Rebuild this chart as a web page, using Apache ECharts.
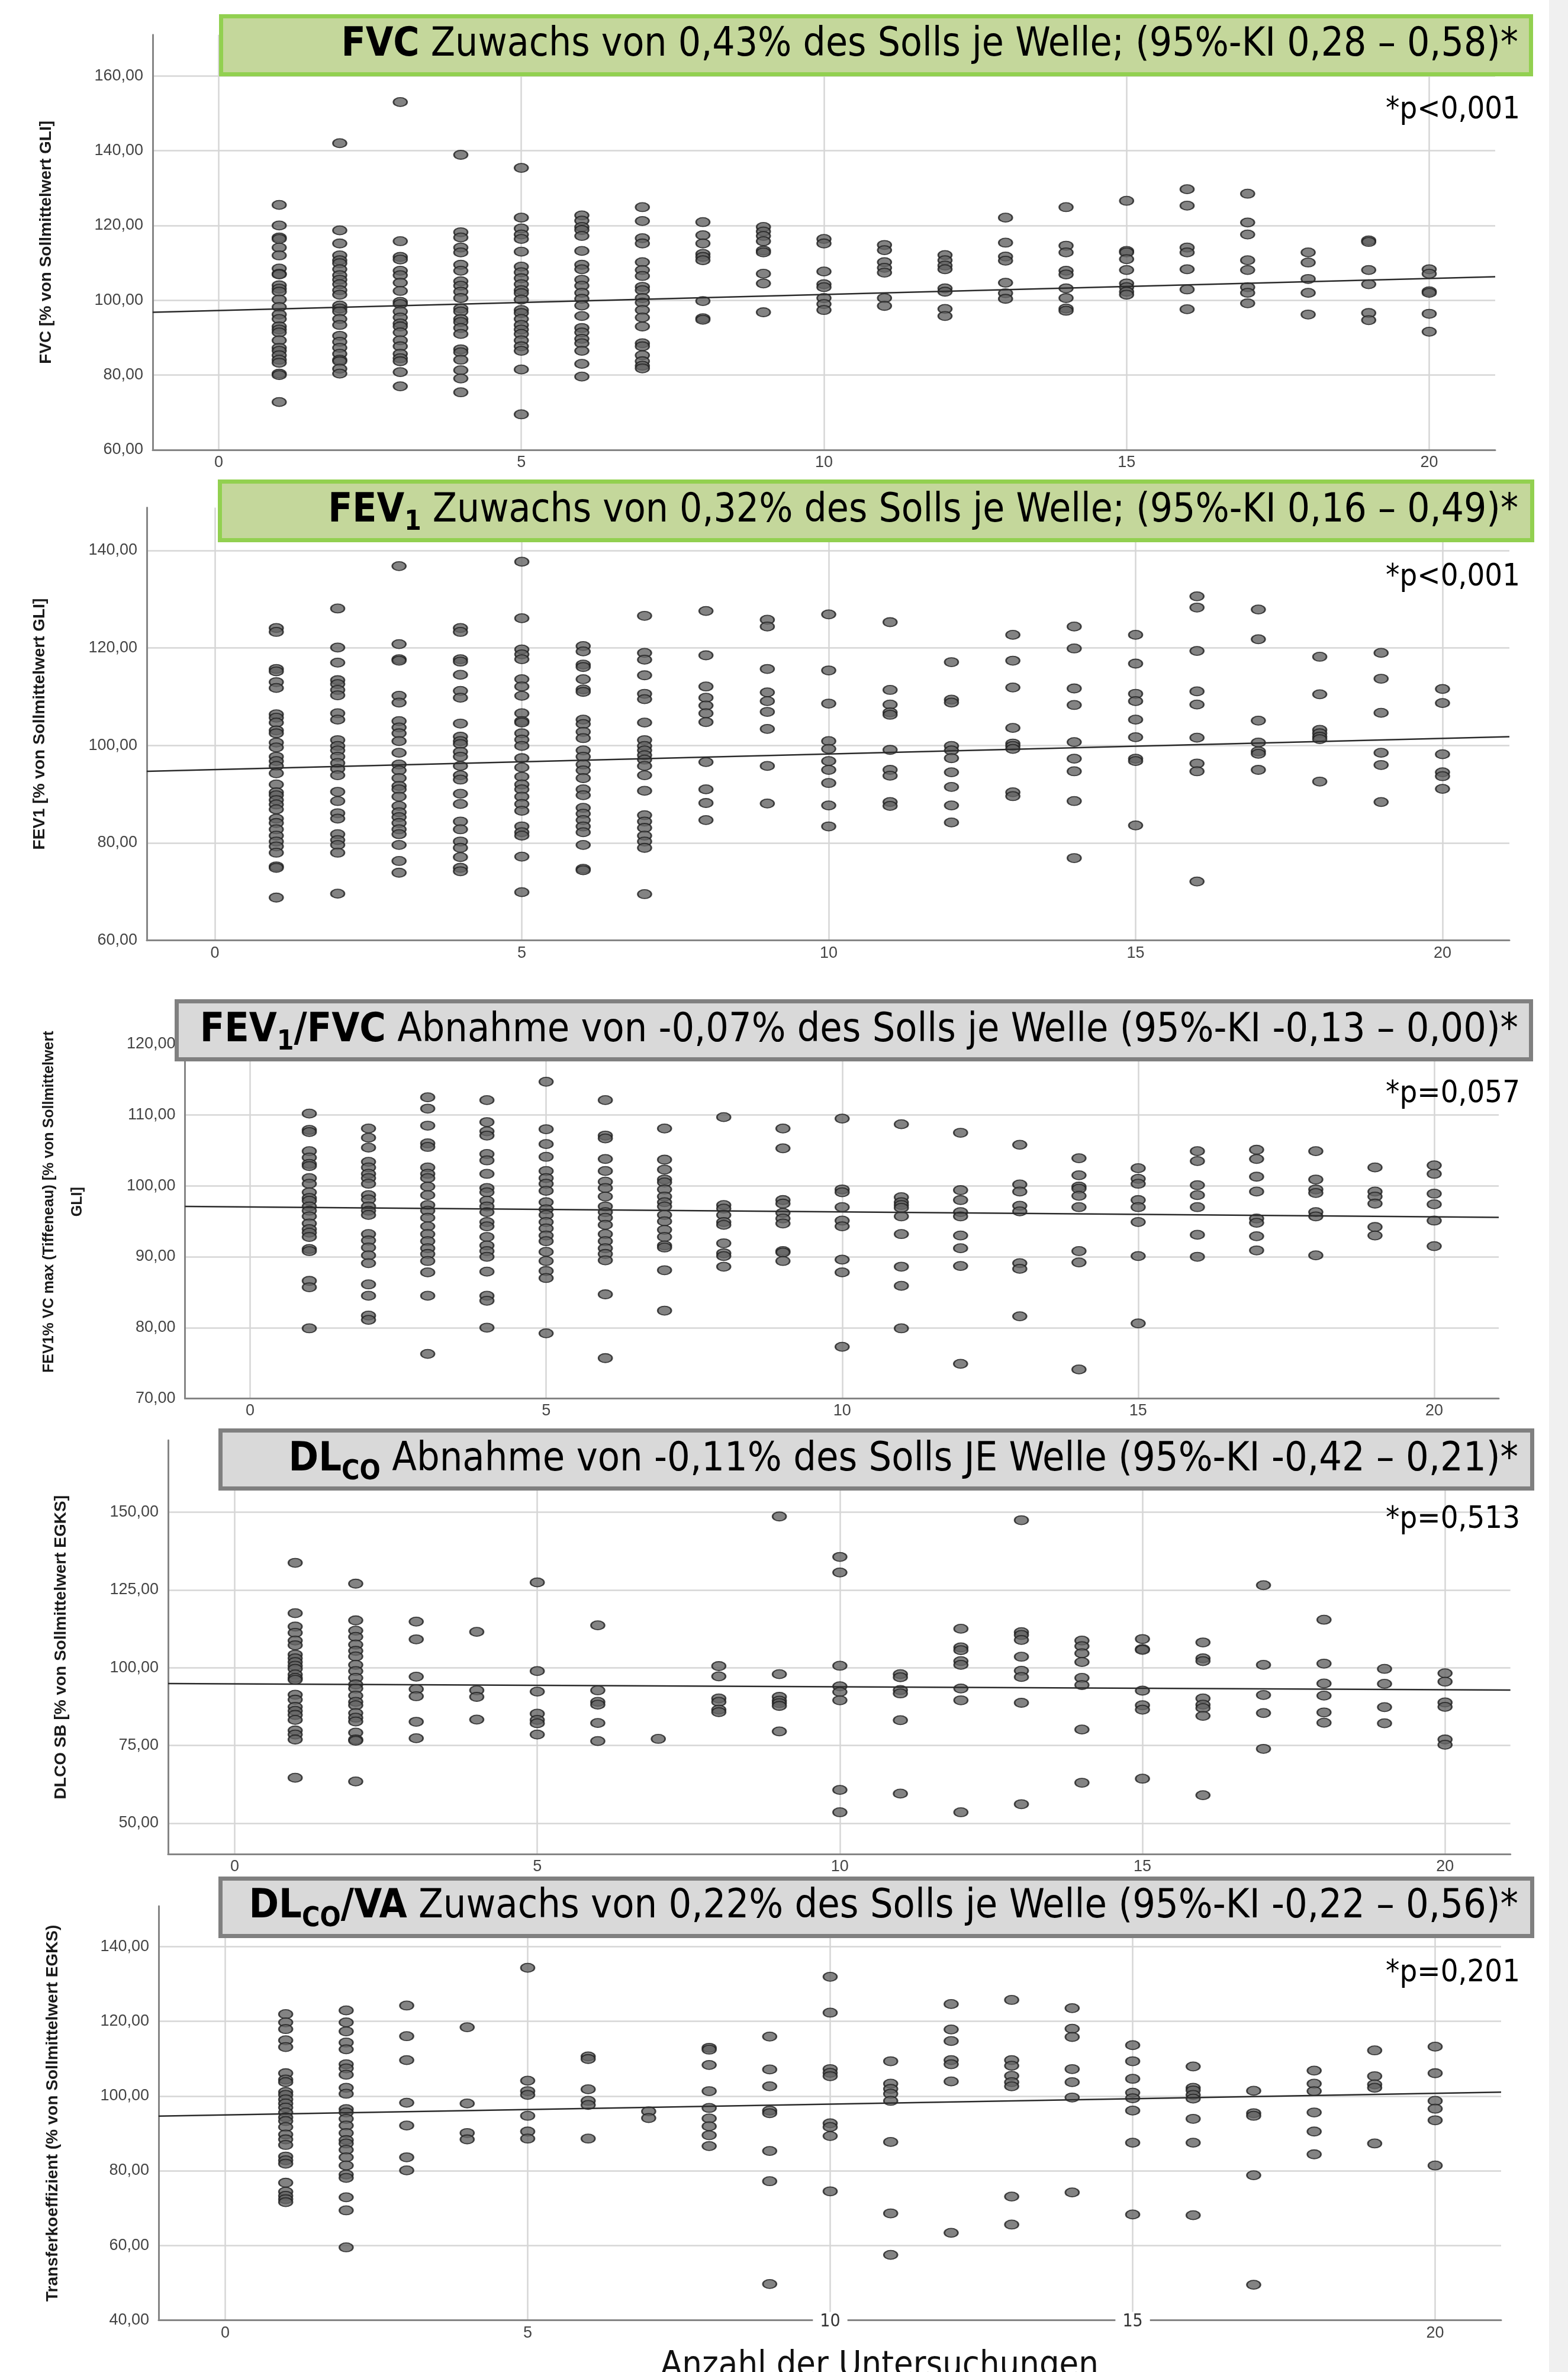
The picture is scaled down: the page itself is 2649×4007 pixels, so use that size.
<!DOCTYPE html>
<html><head><meta charset="utf-8">
<script src="https://cdn.jsdelivr.net/npm/echarts@6/dist/echarts.min.js"></script>
<style>html,body{margin:0;padding:0;background:#fff;}#c{width:2649px;height:4007px;}</style>
</head><body><div id="c"></div>
<script>
// ---------------- DATA ----------------
const WAVES = [1,2,3,4,5,6,7,8,9,10,11,12,13,14,15,16,17,18,19,20];
const X_TICKS = [0,5,10,15,20];

// Panel 1: FVC [% von Sollmittelwert GLI], values per wave 1..20
const FVC = [
 [125.5,120,116.8,116.4,114.1,112,108.5,107.1,106.9,104,103.1,102.3,100.2,98.2,96.2,95,93,92.2,91.4,89.3,87.3,86.5,85.3,84.1,83.3,80.4,80,72.8],
 [142,118.7,115.2,112,110.7,109.9,108.3,106.7,105.5,104.3,102.7,101.5,98.6,97.8,97,95,93.4,90.5,88.9,87.3,85.7,84.1,83.7,81.7,80.4],
 [153,115.8,111.6,110.9,107.9,106.7,104.7,102.5,99.6,99,97,95.4,93.8,93,91.4,89.3,87.7,85.7,84.5,83.7,80.8,77],
 [138.9,118.2,116.8,114.1,112.8,109.5,107.9,105.1,103.9,102.3,100.6,97.8,97,95,94.2,92.6,91,86.9,86.1,84.1,81.3,79.1,75.4],
 [135.4,122.1,119.2,117.6,116.4,113,109,107.5,105.9,104.3,102.7,101.9,100.2,97.4,96.6,95,93.4,92.2,91,89.3,87.7,86.5,81.5,69.5],
 [122.7,121.3,119.6,118.8,117.2,113.2,109.5,108.3,105.5,103.9,102,100.4,98.6,95.8,92.6,91.4,89.7,88.5,86.5,83,79.6],
 [124.9,121.2,116.6,115.2,110.2,108.1,106.5,103.6,102.7,100.6,99.4,97.4,95.4,93,88.5,87.7,85.3,83.7,82.5,81.8],
 [120.9,117.4,115.2,112.4,111.6,110.7,99.8,95.2,94.8],
 [119.6,118.4,117.2,115.8,113.3,112.8,107.1,104.5,96.8],
 [116.4,115.2,107.7,104.3,103.5,100.6,99,97.4],
 [114.8,113.4,110.2,108.7,107.4,100.6,98.5],
 [112.1,110.7,109.3,108.3,103.2,102.3,97.7,95.8],
 [122.1,115.4,111.7,110.6,104.7,101.9,100.4],
 [124.9,114.6,112.8,107.9,106.9,103.2,100.6,97.8,97.2],
 [126.6,113.2,112.8,111,108.1,104.5,103.5,102.3,101.5],
 [129.7,125.3,114.1,112.8,108.3,102.9,97.6],
 [128.5,120.8,117.6,110.7,108.1,103.5,102,99.2],
 [112.8,110.1,105.7,102,96.2],
 [116,115.6,108.1,104.3,96.6,94.7],
 [108.3,107.1,102.4,102,96.4,91.6]
];
const FVC_FIT = [[-1.09,96.8],[21.09,106.3]];
const FVC_Y_TICKS = [60,80,100,120,140,160];

// Panel 2: FEV1
const FEV1 = [
 [124.1,123.3,115.7,115.2,113,111.8,106.4,105.7,104.7,103.1,102.5,100.6,99.6,97.7,96.8,95.8,94.3,92,90.4,89.8,88.8,87.9,86.9,85,84.1,82.8,81.5,80.3,79.3,78,75.2,74.9,68.8],
 [128.1,120.1,117,113.4,112.6,111.4,110.3,106.6,105.3,101.1,99.9,99,97.7,96.4,95.2,93.9,90.5,88.6,86.1,85,81.8,80.6,79.6,78,69.6],
 [136.8,120.8,117.7,117.4,110.2,108.8,105,103.7,102.5,100.9,98.5,96.1,94.9,93.3,91.7,91,89.5,87.6,86.3,85.3,84.1,82.8,81.8,79.6,76.3,73.9],
 [124.1,123.3,117.7,117.2,114.5,111.2,109.8,104.5,101.8,100.9,100.3,98.7,97.7,95.8,93.9,93,90.1,88,84.4,82.8,80.3,79,77.1,74.9,74.2],
 [137.7,126.1,119.7,118.7,117.7,113.6,112.1,110.2,106.6,105,104.7,102.5,101.2,99.9,97.4,95.5,93.6,92,91,89.5,88,86.6,83.4,82.2,81.5,77.2,69.9],
 [120.4,119.3,116.6,116.1,113.6,111.5,111,105.3,104.4,102.8,101.5,99,97.7,96.1,94.9,93.3,91,89.8,87.2,86,84.7,83.4,82.2,79.6,74.7,74.4],
 [126.6,119,117.6,114.4,110.6,109.5,104.7,101.1,99.9,99,98,97.1,95.8,93.9,90.7,85.7,84.4,83.1,81.5,80.3,79,69.5],
 [127.6,118.5,112.1,109.8,108.2,106.6,104.8,96.6,91,88.2,84.7],
 [125.8,124.4,115.7,110.9,109.1,106.9,103.4,95.8,88.1],
 [126.9,115.4,108.6,100.9,99.3,96.8,95,92.3,87.7,83.4],
 [125.3,111.4,108.4,106.8,106.3,99.1,95,93.8,88.4,87.6],
 [117.1,109.4,108.8,99.9,99,97.4,94.5,91.5,87.7,84.2],
 [122.7,117.4,111.9,103.6,100.4,99.9,99.3,90.4,89.6],
 [124.4,119.9,111.7,108.3,100.7,97.3,94.7,88.6,76.9],
 [122.7,116.8,110.6,109.1,105.3,101.7,97.3,96.8,83.6],
 [130.6,128.3,119.4,111.1,108.4,101.6,96.3,94.7,72.1],
 [127.9,121.8,105.1,100.6,98.8,98.3,95],
 [118.2,110.5,103.2,102.5,101.8,101.3,92.6],
 [119,113.7,106.7,98.5,96,88.4],
 [111.6,108.7,98.2,94.5,93.7,91.1]
];
const FEV1_FIT = [[-1.11,94.7],[21.09,101.8]];
const FEV1_Y_TICKS = [60,80,100,120,140];

// Panel 3: FEV1/FVC (Tiffeneau)
const RATIO = [
 [110.2,107.9,107.6,104.9,104,103.1,102.8,101.1,100.3,99.1,98.3,97.9,97.1,96.5,95.7,94.7,93.9,93.4,92.8,91.1,90.8,86.6,85.7,79.9],
 [108.1,106.8,105.4,103.4,102.6,101.7,101.1,100.3,98.7,98.1,97.1,96.5,95.9,93.2,92.3,91.3,90.2,89.1,86.1,84.5,81.7,81.1],
 [112.5,110.9,108.5,106,105.5,102.6,101.7,101.1,99.9,98.7,97.3,96.5,95.5,94.3,93.2,92.2,91.2,90.4,89.4,87.8,84.5,76.3],
 [112.1,109,107.7,107.1,104.5,103.6,101.7,99.7,99.1,97.9,97.1,96.3,94.9,94.3,92.8,91.6,90.8,90,87.9,84.5,83.8,80],
 [114.7,108,105.9,104.1,102.1,101.1,100.3,99.3,97.7,96.7,95.9,94.9,94,93,92.2,90.7,89.4,88,87,79.2],
 [112.1,107.1,106.7,103.8,102.1,100.6,99.7,98.5,97.1,96.3,95.5,94.5,93.2,92.2,91.2,90.4,89.5,84.7,75.7],
 [108.1,103.7,102.3,100.9,100.5,99.5,98.5,97.7,97.1,95.9,95,93.8,92.8,91.6,91.3,88.1,82.4],
 [109.7,97.3,96.8,95.9,94.9,94.5,91.9,90.5,90.1,88.6],
 [108.1,105.3,98,97.5,96.2,95.4,94.7,90.8,90.6,89.4],
 [109.5,99.5,99.1,97,95.1,94.3,89.6,87.8,77.3],
 [108.7,98.4,97.7,97.3,96.9,95.7,93.2,88.6,85.9,79.9],
 [107.5,99.4,98,96.3,95.7,93,91.2,88.7,74.9],
 [105.8,100.2,99.2,97.2,96.4,89.1,88.3,81.6],
 [103.9,101.5,99.9,99.6,98.6,97,90.8,89.2,74.1],
 [102.5,101,100.3,98,97,94.9,90.1,80.6],
 [104.9,103.5,100.1,98.7,97,93.1,90],
 [105.1,103.8,101.3,99.2,95.4,94.8,92.9,90.9],
 [104.9,100.9,99.5,99,96.3,95.7,90.2],
 [102.6,99.2,98.5,97.5,94.2,93],
 [102.9,101.7,98.9,97.4,95.1,91.5]
];
const RATIO_FIT = [[-1.1,97.1],[21.09,95.55]];
const RATIO_Y_TICKS = [70,80,90,100,110,120];

// Panel 4: DLCO SB
const DLCO = [
 [133.7,117.5,113.2,111.2,108.7,107.2,104.2,103,101.8,100.6,99.6,97.8,96.7,96.1,91.3,89.7,87.4,86.1,84.8,83.2,79.8,78.5,76.9,64.6],
 [127,115.2,111.9,109.9,107.4,105.4,103.6,100.9,98.9,96.7,94.6,93.3,91,89,87.9,85.4,83.9,82.7,79.1,76.9,76.5,63.4],
 [114.8,109.1,97.1,93.1,90.8,82.6,77.3],
 [111.5,92.7,90.6,83.3],
 [127.4,98.9,92.3,85.2,83.2,82.1,78.5],
 [113.6,92.7,89,88.1,82.2,76.4],
 [77.1],
 [100.5,97.2,90.1,89,86.5,85.7],
 [148.6,97.9,90.6,89.4,88.6,87.7,79.5],
 [135.6,130.6,100.6,94,92.2,89.5,60.7,53.5],
 [97.9,96.9,92.8,91.7,83.1,59.5],
 [112.5,106.5,105.6,102.1,100.9,93.3,89.5,53.5],
 [147.4,111.4,110.5,108.9,103.5,99,97,88.7,56.1],
 [108.7,106.9,104.6,101.8,96.7,94.4,80.1,63],
 [109.2,106,105.7,92.6,87.9,86.5,64.3],
 [108.1,103,102.1,90.1,88.1,87,84.5,59],
 [126.5,100.9,91.2,85.4,73.9],
 [115.4,101.3,94.9,91,85.6,82.3],
 [99.6,94.8,87.3,82.1],
 [98.2,95.5,88.8,87.4,76.9,75.2]
];
const DLCO_FIT = [[-1.1,94.9],[21.08,92.8]];
const DLCO_Y_TICKS = [50,75,100,125,150];

// Panel 5: DLCO/VA (Transferkoeffizient)
const DLCOVA = [
 [121.9,119.7,117.9,114.9,113.1,106.1,104.4,103.7,101.1,100.3,99.1,98,96.9,95.6,94.3,93.3,91.7,89.7,88.4,86.9,83.8,82.8,81.9,76.8,74.4,73.3,72.4,71.6],
 [122.9,119.7,117.3,114.3,112.5,108.5,107.4,105.7,102.2,100.6,96.5,95.6,93.9,92.1,90.1,88.2,87.3,85.6,83.6,81.4,79,78.1,72.9,69.4,59.5],
 [124.2,116,109.6,98.2,92.1,83.6,80.1],
 [118.4,98,90.1,88.4],
 [134.3,104.1,101.3,100.3,94.7,90.5,88.6],
 [110.6,109.9,101.8,98.7,97.6,88.6],
 [95.9,94.1],
 [112.9,112.4,108.3,101.3,96.8,94,91.9,89.5,86.6],
 [115.9,107.1,102.6,96.1,95.4,85.3,77.2,49.7],
 [131.9,122.3,107.2,106.2,105.3,92.7,91.7,89.3,74.5],
 [109.3,103.3,101.9,100.6,98.7,87.7,68.6,57.5],
 [124.6,117.8,114.7,109.6,108.5,103.9,63.4],
 [125.7,109.6,108.1,105.4,103.7,102.6,73.1,65.6],
 [123.5,118,115.8,107.2,103.7,99.6,74.2],
 [113.6,109.3,104.6,100.9,99.4,96.1,87.5,68.3],
 [107.9,102.2,101.5,100.3,99.3,93.9,87.5,68.1],
 [101.4,95.4,94.7,78.8,49.5],
 [106.8,103.3,101.3,95.6,90.5,84.4],
 [112.2,105.3,103.1,102.2,87.3],
 [113.2,106.1,98.7,96.6,93.5,81.4]
];
const DLCOVA_FIT = [[-1.1,94.6],[21.09,101.05]];
const DLCOVA_Y_TICKS = [40,60,80,100,120,140];

// Texts
const TITLE_FVC = [['FVC','b'],[' Zuwachs von 0,43% des Solls je Welle; (95%-KI 0,28 – 0,58)*','n']];
const TITLE_FEV1 = [['FEV','b'],['1','s'],[' Zuwachs von 0,32% des Solls je Welle; (95%-KI 0,16 – 0,49)*','n']];
const TITLE_RATIO = [['FEV','b'],['1','s'],['/FVC','b'],[' Abnahme von -0,07% des Solls je Welle (95%-KI -0,13 – 0,00)*','n']];
const TITLE_DLCO = [['DL','b'],['CO','s'],[' Abnahme von -0,11% des Solls JE Welle (95%-KI -0,42 – 0,21)*','n']];
const TITLE_DLCOVA = [['DL','b'],['CO','s'],['/VA','b'],[' Zuwachs von 0,22% des Solls je Welle (95%-KI -0,22 – 0,56)*','n']];
const P_LABELS = ['*p<0,001','*p<0,001','*p=0,057','*p=0,513','*p=0,201'];
const Y_NAMES = ['FVC [% von Sollmittelwert GLI]','FEV1 [% von Sollmittelwert GLI]',
  'FEV1% VC max (Tiffeneau) [% von Sollmittelwert\nGLI]','DLCO SB [% von Sollmittelwert EGKS]',
  'Transferkoeffizient (% von Sollmittelwert EGKS)'];
const X_NAME = 'Anzahl der Untersuchungen';

// ---------------- LAYOUT ----------------
const TF = "'Liberation Sans Narrow','DejaVu Sans Condensed','Open Sans',sans-serif";
const AF = "'Liberation Sans',Arial,sans-serif";
const SUB = 0.68;
const GREEN = {fill:'#c4d79b', stroke:'#92d050'};
const GRAY = {fill:'#d9d9d9', stroke:'#808080'};

const PANELS = [
 {vals:FVC, fit:FVC_FIT, yt:FVC_Y_TICKS, ymin:60, ymax:171, xmin:-1.09, xmax:21.09,
  g:{left:258, top:58.7, width:2268, height:701.3}, nameCx:78, nameLen:395,
  title:TITLE_FVC, tbox:[370,24,2590,129], tcy:76.5, tx0:576, box:GREEN, pcy:186},
 {vals:FEV1, fit:FEV1_FIT, yt:FEV1_Y_TICKS, ymin:60, ymax:148.8, xmin:-1.11, xmax:21.09,
  g:{left:248, top:857.5, width:2302, height:731.2}, nameCx:67, nameLen:426,
  title:TITLE_FEV1, tbox:[368,810,2592,916], tcy:863.5, tx0:554, box:GREEN, pcy:975},
 {vals:RATIO, fit:RATIO_FIT, yt:RATIO_Y_TICKS, ymin:70, ymax:125.5, xmin:-1.1, xmax:21.09,
  g:{left:312.5, top:1698, width:2219.5, height:664.5}, nameCx:107, nameLen:628, twoLine:true,
  title:TITLE_RATIO, tbox:[295,1688,2590,1793], tcy:1741, tx0:337, box:GRAY, pcy:1848},
 {vals:DLCO, fit:DLCO_FIT, yt:DLCO_Y_TICKS, ymin:40, ymax:173.1, xmin:-1.1, xmax:21.08,
  g:{left:284, top:2433, width:2267.7, height:699.4}, nameCx:103, nameLen:498,
  title:TITLE_DLCO, tbox:[369,2413,2592,2518], tcy:2466.5, tx0:487, box:GRAY, pcy:2567},
 {vals:DLCOVA, fit:DLCOVA_FIT, yt:DLCOVA_Y_TICKS, ymin:40, ymax:150.8, xmin:-1.1, xmax:21.09,
  g:{left:268, top:3220, width:2268, height:699.6}, nameCx:89, nameLen:603,
  title:TITLE_DLCOVA, tbox:[369,3170,2592,3274], tcy:3221.5, tx0:420, box:GRAY, pcy:3333}
];
const TEXT_RIGHT = 2565;

// ---------------- MEASURE ----------------
const cv = document.createElement('canvas').getContext('2d');
function tw(t, size, weight, fam){ cv.font = weight+' '+size+'px '+fam; return cv.measureText(t).width; }
function segW(segs, F){ return segs.reduce((a,s)=>a+tw(s[0], s[1]==='s'?F*SUB:F, s[1]==='n'?'normal':'bold', TF),0); }

const ELLIPSE = 'path://M0,50A50,50,0,1,1,100,50A50,50,0,1,1,0,50Z';
const AXIS_C = '#858585', GRID_C = '#d6d6d6';

const grids=[], xAxes=[], yAxes=[], series=[], gfx=[];
const fmtY = v => v.toFixed(2).replace('.', ',');

PANELS.forEach((p,i)=>{
  grids.push({left:p.g.left, top:p.g.top, width:p.g.width, height:p.g.height, containLabel:false, outerBoundsMode:'none'});
  let xl = {customValues:X_TICKS, fontSize:27, color:'#444', fontFamily:AF, margin:8};
  if (i===4) {
    xl = {customValues:X_TICKS, margin:-14,
      formatter: v => (v===10||v===15) ? '{w|'+v+'}' : '{n|'+v+'}',
      rich:{ n:{fontSize:27,color:'#444',fontFamily:AF,padding:[22,0,0,0]},
             w:{fontSize:30,color:'#333',fontFamily:TF,backgroundColor:'#fff',padding:[2,12,2,12]} } };
  }
  xAxes.push({gridIndex:i, type:'value', min:p.xmin, max:p.xmax,
    axisLine:{show:true, onZero:false, lineStyle:{color:AXIS_C, width:3}},
    axisTick:{show:false, customValues:X_TICKS},
    axisLabel:xl,
    splitLine:{show:true, lineStyle:{color:GRID_C, width:2.5}}});
  // y axis name sizing
  const line1 = Y_NAMES[i].split('\n')[0];
  const nfs = Math.min(p.twoLine ? 25 : 28, 118*p.nameLen/tw(line1,100,'bold',AF));
  const lh = p.twoLine ? 48 : nfs*1.15;
  const thick = p.twoLine ? 2*lh : lh;
  const nameGap = p.g.left - p.nameCx - thick/2;
  yAxes.push({gridIndex:i, type:'value', min:p.ymin, max:p.ymax,
    axisLine:{show:true, onZero:false, lineStyle:{color:AXIS_C, width:3}},
    axisTick:{show:false, customValues:p.yt},
    axisLabel:{customValues:p.yt, formatter:fmtY, fontSize:27, color:'#444', fontFamily:AF, margin:16},
    splitLine:{show:true, lineStyle:{color:GRID_C, width:2.5}},
    name:Y_NAMES[i], nameLocation:'middle', nameRotate:90, nameGap:nameGap, nameMoveOverlap:false,
    nameTextStyle:{fontSize:nfs, fontWeight:'bold', color:'#1a1a1a', fontFamily:AF, lineHeight:lh}});
  series.push({type:'scatter', xAxisIndex:i, yAxisIndex:i, z:3,
    data: p.vals.flatMap((arr,k)=>arr.map(v=>[WAVES[k], v])),
    symbol:ELLIPSE, symbolSize:[23,15],
    itemStyle:{color:'#646464', borderColor:'#1e1e1e', borderWidth:2.2}});
  series.push({type:'line', xAxisIndex:i, yAxisIndex:i, z:4, data:p.fit, symbol:'none',
    lineStyle:{color:'#2a2a2a', width:2.5}, silent:true});

  // title box
  const [x0,y0,x1,y1] = p.tbox, lw=7;
  gfx.push({type:'rect', z:100, shape:{x:x0+lw/2, y:y0+lw/2, width:x1-x0-lw, height:y1-y0-lw},
    style:{fill:p.box.fill, stroke:p.box.stroke, lineWidth:lw}});
  // title text
  const target = TEXT_RIGHT - p.tx0;
  const F = Math.min(74, 100*target/segW(p.title,100));
  const widths = p.title.map(s=>tw(s[0], s[1]==='s'?F*SUB:F, s[1]==='n'?'normal':'bold', TF));
  let x = TEXT_RIGHT - widths.reduce((a,b)=>a+b,0);
  p.title.forEach((s,k)=>{
    const sub = s[1]==='s', size = sub?F*SUB:F;
    gfx.push({type:'text', z:110, x:x, y:p.tcy + (sub?F*0.3:0),
      style:{text:s[0], font:(s[1]==='n'?'normal':'bold')+' '+size+'px '+TF, fill:'#000',
        textAlign:'left', textVerticalAlign:'middle', align:'left', verticalAlign:'middle'}});
    x += widths[k];
  });
  // p label
  const pF = Math.min(58, 100*227/tw(P_LABELS[i],100,'normal',TF));
  gfx.push({type:'text', z:110, x:TEXT_RIGHT+3, y:p.pcy,
    style:{text:P_LABELS[i], font:'normal '+pF+'px '+TF, fill:'#000',
      textAlign:'right', textVerticalAlign:'middle', align:'right', verticalAlign:'middle'}});
});

// bottom axis title
const xnF = Math.min(64, 100*740/tw(X_NAME,100,'normal',TF));
gfx.push({type:'text', z:110, x:1486, y:3998,
  style:{text:X_NAME, font:'normal '+xnF+'px '+TF, fill:'#111',
    textAlign:'center', textVerticalAlign:'middle', align:'center', verticalAlign:'middle'}});
// right grey strip
gfx.push({type:'rect', z:120, shape:{x:2617, y:0, width:32, height:4007}, style:{fill:'#f0f0f0'}});

const chart = echarts.init(document.getElementById('c'), null, {renderer:'canvas', width:2649, height:4007});
chart.setOption({
  animation:false, backgroundColor:'#fff',
  grid:grids, xAxis:xAxes, yAxis:yAxes, series:series,
  graphic:{elements:gfx}
});
</script></body></html>
